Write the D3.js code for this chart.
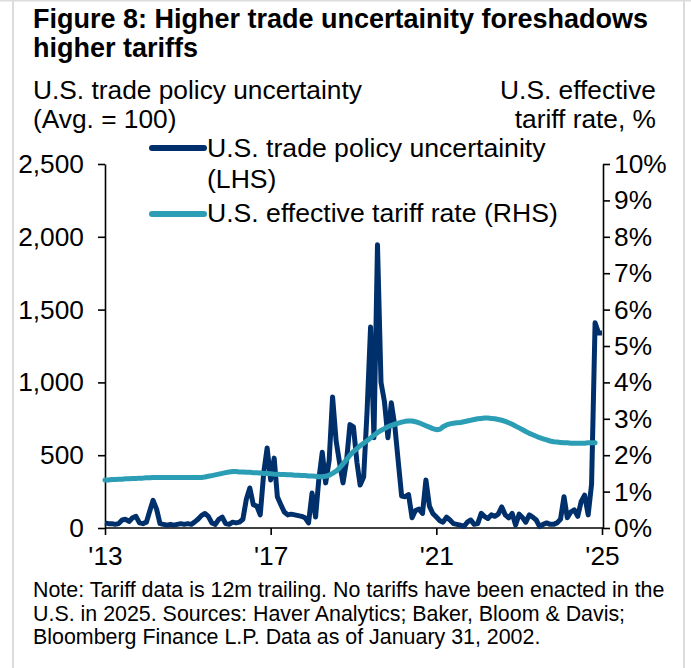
<!DOCTYPE html>
<html>
<head>
<meta charset="utf-8">
<script src="https://cdn.jsdelivr.net/npm/d3@7"></script>
<style>
  html, body { margin: 0; padding: 0; background: #ffffff; }
  svg { display: block; }
  text { font-family: "Liberation Sans", Arial, sans-serif; fill: #000; }
</style>
</head>
<body>
<svg id="chart" width="691" height="668"></svg>
<script>
// Monthly series, starting January 2013
const startMonth = new Date(2013, 0, 1);

// U.S. trade policy uncertainty index (avg = 100), Jan 2013 – Jan 2025
const uncertainty = [
  35, 30, 30, 25, 30, 55, 60, 45, 70, 80, 35, 30,          // 2013
  40, 120, 190, 130, 30, 25, 20, 25, 20, 25, 30, 25,       // 2014
  30, 25, 40, 60, 85, 100, 80, 35, 25, 60, 75, 30,         // 2015
  25, 40, 35, 40, 60, 200, 275, 160, 150, 90, 380, 550,    // 2016
  330, 480, 215, 160, 110, 90, 95, 90, 85, 80, 70, 35,     // 2017
  240, 75, 330, 520, 310, 465, 900, 600, 445, 310, 460, 710, // 2018
  695, 450, 295, 350, 800, 1380, 620, 1945, 1000, 870, 620, 860, // 2019
  700, 450, 220, 215, 230, 70, 120, 130, 100, 330, 150, 100,  // 2020
  75, 50, 40, 75, 55, 30, 25, 20, 10, 40, 55, 25,          // 2021
  30, 100, 80, 65, 90, 80, 95, 145, 90, 70, 100, 20,       // 2022
  95, 70, 40, 90, 75, 55, 10, 25, 35, 25, 25, 35,          // 2023
  60, 215, 70, 110, 125, 80, 180, 225, 90, 300, 1410, 1340, // 2024
  1340                                                     // 2025
];

// U.S. effective tariff rate, %, 12m trailing, Jan 2013 – Nov 2024
const tariffRate = [
  1.32, 1.32, 1.33, 1.33, 1.34, 1.34, 1.35, 1.35, 1.36, 1.36, 1.37, 1.37,
  1.38, 1.38, 1.39, 1.39, 1.39, 1.39, 1.39, 1.39, 1.39, 1.39, 1.39, 1.39,
  1.39, 1.39, 1.39, 1.39, 1.39, 1.40, 1.42, 1.44, 1.46, 1.48, 1.50, 1.52,
  1.54, 1.55, 1.55, 1.54, 1.54, 1.53, 1.53, 1.52, 1.52, 1.51, 1.50, 1.50,
  1.49, 1.48, 1.48, 1.47, 1.47, 1.46, 1.46, 1.45, 1.45, 1.44, 1.44, 1.43,
  1.43, 1.42, 1.41, 1.41, 1.42, 1.45, 1.50, 1.56, 1.65, 1.76, 1.88, 2.00,
  2.10, 2.18, 2.26, 2.33, 2.40, 2.47, 2.55, 2.62, 2.68, 2.73, 2.78, 2.82,
  2.85, 2.88, 2.91, 2.93, 2.94, 2.94, 2.92, 2.89, 2.85, 2.81, 2.77, 2.73,
  2.70, 2.71, 2.78, 2.83, 2.86, 2.88, 2.89, 2.90, 2.92, 2.94, 2.96, 2.98,
  3.00, 3.01, 3.02, 3.02, 3.01, 3.00, 2.98, 2.96, 2.93, 2.89, 2.85, 2.80,
  2.75, 2.70, 2.65, 2.60, 2.56, 2.52, 2.48, 2.45, 2.42, 2.39, 2.37, 2.36,
  2.35, 2.34, 2.34, 2.33, 2.33, 2.33, 2.33, 2.33, 2.34, 2.34, 2.34
];

const leftTicks = [0, 500, 1000, 1500, 2000, 2500];
const rightTicks = [0, 1, 2, 3, 4, 5, 6, 7, 8, 9, 10];
const yearTicks = [2013, 2017, 2021, 2025];

const titleLines = ["Figure 8: Higher trade uncertainity foreshadows", "higher tariffs"];
const leftUnitLines = ["U.S. trade policy uncertainty", "(Avg. = 100)"];
const rightUnitLines = ["U.S. effective", "tariff rate, %"];
const legendUncertainty = ["U.S. trade policy uncertainity", "(LHS)"];
const legendTariff = "U.S. effective tariff rate (RHS)";
const noteLines = [
  "Note: Tariff data is 12m trailing. No tariffs have been enacted in the",
  "U.S. in 2025. Sources: Haver Analytics; Baker, Bloom & Davis;",
  "Bloomberg Finance L.P. Data as of January 31, 2002."
];

const navy = "#00306b";
const teal = "#2b9db5";
const labelSize = 26.3;

const svg = d3.select("#chart");

// light panel frame
svg.append("line").attr("x1", 0).attr("x2", 691).attr("y1", 0.5).attr("y2", 0.5)
  .attr("stroke", "#dcdcdc").attr("stroke-width", 2);
svg.append("line").attr("x1", 13).attr("x2", 13).attr("y1", 0).attr("y2", 668)
  .attr("stroke", "#dcdcdc").attr("stroke-width", 2);
svg.append("line").attr("x1", 684).attr("x2", 684).attr("y1", 0).attr("y2", 668)
  .attr("stroke", "#dcdcdc").attr("stroke-width", 2);

// plot area
const plot = { left: 105, right: 603, top: 164, bottom: 528 };

const x = d3.scaleTime()
  .domain([new Date(2013, 0, 1), new Date(2025, 0, 1)])
  .range([plot.left, 602]);
const yL = d3.scaleLinear().domain([0, 2500]).range([plot.bottom, plot.top]);
const yR = d3.scaleLinear().domain([0, 10]).range([plot.bottom, plot.top]);

const monthDate = i => d3.timeMonth.offset(startMonth, i);

// headings
svg.selectAll("text.title").data(titleLines).join("text")
  .attr("class", "title")
  .attr("x", 33).attr("y", (d, i) => 28 + i * 29)
  .attr("font-size", 27).attr("font-weight", "bold")
  .text(d => d);

svg.selectAll("text.lunit").data(leftUnitLines).join("text")
  .attr("class", "lunit")
  .attr("x", 33).attr("y", (d, i) => 99 + i * 29)
  .attr("font-size", labelSize)
  .text(d => d);

svg.selectAll("text.runit").data(rightUnitLines).join("text")
  .attr("class", "runit")
  .attr("x", 656).attr("y", (d, i) => 99 + i * 29)
  .attr("text-anchor", "end")
  .attr("font-size", labelSize)
  .text(d => d);

// axes
function styleAxis(g) {
  g.selectAll("path.domain").attr("stroke", "#000").attr("stroke-width", 1.6);
  g.selectAll(".tick line").attr("stroke", "#000").attr("stroke-width", 1.6);
  g.selectAll(".tick text")
    .attr("font-family", "'Liberation Sans', Arial, sans-serif")
    .attr("font-size", labelSize).attr("fill", "#000");
}

svg.append("g")
  .attr("transform", `translate(${plot.left},0)`)
  .call(d3.axisLeft(yL).tickValues(leftTicks).tickFormat(d3.format(","))
    .tickSizeInner(7).tickSizeOuter(0).tickPadding(14))
  .call(styleAxis);

svg.append("g")
  .attr("transform", `translate(${plot.right},0)`)
  .call(d3.axisRight(yR).tickValues(rightTicks).tickFormat(d => d + "%")
    .tickSizeInner(7).tickSizeOuter(0).tickPadding(4))
  .call(styleAxis);

svg.append("g")
  .attr("transform", `translate(0,${plot.bottom})`)
  .call(d3.axisBottom(x)
    .tickValues(yearTicks.map(y => new Date(y, 0, 1)))
    .tickFormat(d3.timeFormat("'%y"))
    .tickSizeInner(7).tickSizeOuter(0).tickPadding(11))
  .call(g => g.select("path.domain").attr("d", `M${plot.left},0H${plot.right}`))
  .call(styleAxis);

// series lines
const lineL = d3.line().x((d, i) => x(monthDate(i))).y(d => yL(d));
const lineR = d3.line().x((d, i) => x(monthDate(i))).y(d => yR(d));

svg.append("path").datum(uncertainty)
  .attr("d", lineL)
  .attr("fill", "none").attr("stroke", navy).attr("stroke-width", 5)
  .attr("stroke-linejoin", "round").attr("stroke-linecap", "butt");

svg.append("path").datum(tariffRate)
  .attr("d", lineR)
  .attr("fill", "none").attr("stroke", teal).attr("stroke-width", 5)
  .attr("stroke-linejoin", "round").attr("stroke-linecap", "round");

// legend
const legend = svg.append("g");
legend.append("line").attr("x1", 152).attr("x2", 204).attr("y1", 148).attr("y2", 148)
  .attr("stroke", navy).attr("stroke-width", 6).attr("stroke-linecap", "round");
legend.selectAll("text.l1").data(legendUncertainty).join("text")
  .attr("class", "l1")
  .attr("x", 207).attr("y", (d, i) => 157 + i * 31)
  .attr("font-size", 26.6).text(d => d);
legend.append("line").attr("x1", 152).attr("x2", 204).attr("y1", 214).attr("y2", 214)
  .attr("stroke", teal).attr("stroke-width", 6).attr("stroke-linecap", "round");
legend.append("text").attr("x", 207).attr("y", 222)
  .attr("font-size", 26.6).text(legendTariff);

// footnote
svg.selectAll("text.note").data(noteLines).join("text")
  .attr("class", "note")
  .attr("x", 33).attr("y", (d, i) => 597 + i * 23.5)
  .attr("font-size", 21.4)
  .text(d => d);
</script>
</body>
</html>
